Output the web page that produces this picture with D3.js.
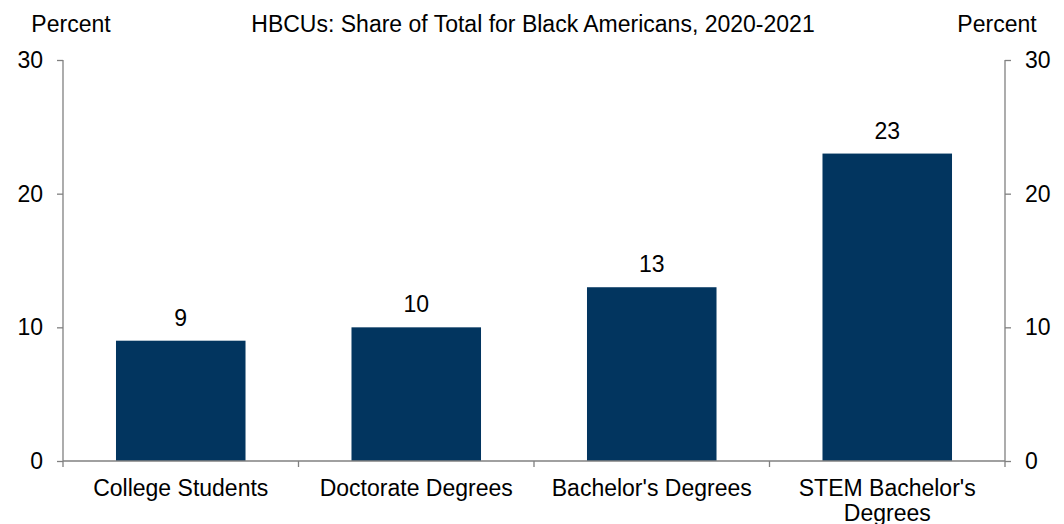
<!DOCTYPE html>
<html>
<head>
<meta charset="utf-8">
<script src="https://cdn.jsdelivr.net/npm/d3@7/dist/d3.min.js"></script>
<style>
  html, body { margin: 0; padding: 0; background: #fff; }
  svg text { font-family: "Liberation Sans", Arial, sans-serif; fill: #000; }
</style>
</head>
<body>
<svg id="chart" width="1064" height="524"></svg>
<script>
// Data
const categories = ["College Students", "Doctorate Degrees", "Bachelor's Degrees", "STEM Bachelor's Degrees"];
const categoryLines = [["College Students"], ["Doctorate Degrees"], ["Bachelor's Degrees"], ["STEM Bachelor's", "Degrees"]];
const values = [9, 10, 13, 23];
const yTicks = [0, 10, 20, 30];
const title = "HBCUs: Share of Total for Black Americans, 2020-2021";
const axisLabel = "Percent";

const svg = d3.select("#chart");
const fontSize = 23;
const margin = { left: 63, right: 1064 - 1005, top: 60, bottom: 524 - 461 };
const plotW = 1064 - margin.left - margin.right;
const plotH = 524 - margin.top - margin.bottom;
const axisColor = "#808080";

const x = d3.scaleBand().domain(categories).range([0, plotW]).paddingInner(0.45).paddingOuter(0.225);
const y = d3.scaleLinear().domain([0, 30]).range([plotH, 0]);

const g = svg.append("g").attr("transform", `translate(${margin.left},${margin.top})`);

// Bars
g.selectAll("rect.bar").data(values).enter().append("rect")
  .attr("class", "bar")
  .attr("x", (d, i) => x(categories[i]))
  .attr("y", d => y(d))
  .attr("width", x.bandwidth())
  .attr("height", d => y(0) - y(d))
  .attr("fill", "#02355f");

// Value labels
g.selectAll("text.val").data(values).enter().append("text")
  .attr("class", "val")
  .attr("x", (d, i) => x(categories[i]) + x.bandwidth() / 2)
  .attr("y", d => y(d) - 15)
  .attr("text-anchor", "middle")
  .style("font-size", fontSize + "px")
  .text(d => d);

// Left and right value axes
const left = g.append("g").call(d3.axisLeft(y).tickValues(yTicks).tickSize(6).tickPadding(14));
const right = g.append("g").attr("transform", `translate(${plotW},0)`)
  .call(d3.axisRight(y).tickValues(yTicks).tickSize(6).tickPadding(14));
[left, right].forEach(a => {
  a.select(".domain").attr("d", `M0,0V${plotH}`);
  a.selectAll("path, line").attr("stroke", axisColor).attr("stroke-width", 1.3);
  a.selectAll("text").style("font-size", fontSize + "px").attr("fill", "#000")
    .style("font-family", '"Liberation Sans", Arial, sans-serif');
});

// Bottom axis with ticks at category boundaries
const bottom = g.append("g").attr("transform", `translate(0,${plotH})`);
bottom.append("line").attr("x1", 0).attr("x2", plotW).attr("y1", 0).attr("y2", 0)
  .attr("stroke", axisColor).attr("stroke-width", 1.3);
const step = x.step();
const boundaries = d3.range(categories.length + 1).map(i => x(categories[0]) - x.paddingOuter() * step + i * step);
bottom.selectAll("line.tick").data(boundaries).enter().append("line")
  .attr("class", "tick")
  .attr("x1", d => d).attr("x2", d => d).attr("y1", 0).attr("y2", 6)
  .attr("stroke", axisColor).attr("stroke-width", 1.3);

// Category labels
categories.forEach((c, i) => {
  const cx = x(c) + x.bandwidth() / 2;
  const t = bottom.append("text")
    .attr("x", cx)
    .attr("y", 35)
    .attr("text-anchor", "middle")
    .style("font-size", fontSize + "px");
  categoryLines[i].forEach((line, j) => {
    t.append("tspan").attr("x", cx).attr("dy", j === 0 ? 0 : 25).text(line);
  });
});

// Title and axis unit labels
svg.append("text").attr("x", 533).attr("y", 32).attr("text-anchor", "middle")
  .style("font-size", fontSize + "px").text(title);
svg.append("text").attr("x", 71).attr("y", 32).attr("text-anchor", "middle")
  .style("font-size", fontSize + "px").text(axisLabel);
svg.append("text").attr("x", 997).attr("y", 32).attr("text-anchor", "middle")
  .style("font-size", fontSize + "px").text(axisLabel);
</script>
</body>
</html>
